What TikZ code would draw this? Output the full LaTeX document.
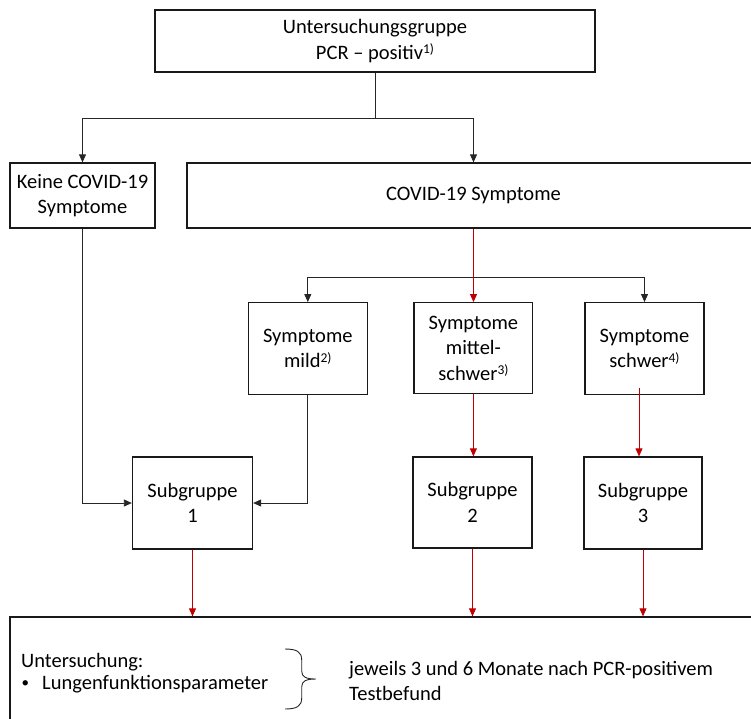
\documentclass[tikz,border=0pt]{standalone}
\usepackage{fontspec}
\setmainfont{Carlito}
\usetikzlibrary{arrows.meta}
\definecolor{arrred}{HTML}{C00000}
\newcommand\supr[1]{\raisebox{5.5pt}{\fontsize{13.5}{13.5}\selectfont #1}}
\begin{document}
\begin{tikzpicture}[x=1pt,y=-1pt,
 box/.style={draw=black!90,line width=1.3pt,align=center,inner sep=0pt,font=\fontsize{20.5}{25.5}\selectfont},
 conn/.style={draw=black!85,line width=0.8pt},
 redconn/.style={draw=arrred,line width=0.8pt},
 tipb/.style={-{Triangle[width=7pt,length=8pt]}},
 txt/.style={inner sep=0pt,font=\fontsize{20.5}{25}\selectfont}]
\useasboundingbox (0,0) rectangle (751,718);
% boxes
\node[box,minimum width=440pt,minimum height=62pt] (top) at (375,41) {Untersuchungsgruppe\\PCR – positiv\supr{1)}};
\node[box,minimum width=145pt,minimum height=65pt] (keine) at (82.5,195.5) {Keine COVID-19\\Symptome};
\node[box,minimum width=573pt,minimum height=65pt] (covid) at (473.5,195.5) {COVID-19 Symptome};
\node[box,minimum width=119pt,minimum height=91.6pt] (mild) at (307.8,348.5) {Symptome\\mild\supr{2)}};
\node[box,minimum width=118.7pt,minimum height=91pt] (mid) at (473.4,348.2) {Symptome\\mittel-\\schwer\supr{3)}};
\node[box,minimum width=119pt,minimum height=91.6pt] (schwer) at (644.5,348.5) {Symptome\\schwer\supr{4)}};
\node[box,minimum width=120pt,minimum height=92pt] (sub1) at (192.5,503) {Subgruppe\\1};
\node[box,minimum width=119pt,minimum height=91pt] (sub2) at (472.5,502.5) {Subgruppe\\2};
\node[box,minimum width=118pt,minimum height=92pt] (sub3) at (643,503) {Subgruppe\\3};
\node[box,minimum width=760pt,minimum height=123pt] (bot) at (390,678.5) {};
% texts in bottom box
\node[txt,anchor=west] (unt) at (21,662.5) {Untersuchung:};
\node[txt,anchor=west,font=\fontsize{15}{15}\selectfont] (bul) at (21.5,684) {•};
\node[txt,anchor=west] (lung) at (42,684) {Lungenfunktionsparameter};
\node[txt,anchor=west,align=left] (jew) at (349,681) {jeweils 3 und 6 Monate nach PCR-positivem\\Testbefund};
% brace
\draw[line width=0.9pt,black!85] (285,649) .. controls (297,649) and (301.7,652) .. (301.7,660) -- (301.7,671) .. controls (301.7,677) and (306,679) .. (316,679) .. controls (306,679) and (301.7,681) .. (301.7,687) -- (301.7,698) .. controls (301.7,706) and (297,709) .. (285,709);
% connectors
\coordinate (j1) at (375,118);
\coordinate (j2) at (473.5,277);
\coordinate (s3) at (639,387.5);
\draw[conn] (top.south) -- (j1);
\draw[conn,tipb] (j1) -| (keine.north);
\draw[conn,tipb] (j1) -| (covid.north);
\draw[conn,tipb] (j2) -| (mild.north);
\draw[conn,tipb] (j2) -| (schwer.north);
\draw[redconn,tipb,arrred] (covid.south) -- (covid.south |- mid.north);
\draw[conn,tipb] (keine.south) |- (sub1.west);
\draw[conn,tipb] (mild.south) |- (sub1.east);
\draw[redconn,tipb,arrred] (mid.south) -- (mid.south |- sub2.north);
\draw[redconn,tipb,arrred] (s3) -- (s3 |- sub3.north);
\draw[redconn,tipb,arrred] (sub1.south) -- (sub1.south |- bot.north);
\draw[redconn,tipb,arrred] (sub2.south) -- (sub2.south |- bot.north);
\draw[redconn,tipb,arrred] (sub3.south) -- (sub3.south |- bot.north);
\end{tikzpicture}
\end{document}
